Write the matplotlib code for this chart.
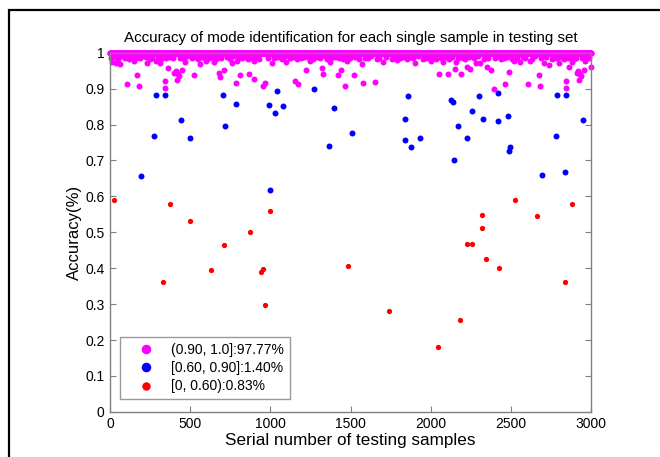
import numpy as np
import matplotlib.pyplot as plt
from matplotlib.patches import Rectangle

plt.rcParams['font.family'] = ['Liberation Sans', 'DejaVu Sans']

n_samples = 3000

# samples with accuracy in [0, 0.60)
red_idx = [25, 377, 496, 875, 998, 708, 627, 331, 940, 956, 967, 1485,
           2527, 2321, 2323, 2664, 2881, 2227, 2260, 2344, 2427, 2835,
           1740, 2185, 2048]
red_acc = [0.590, 0.578, 0.531, 0.502, 0.560, 0.465, 0.394, 0.361, 0.389,
           0.399, 0.298, 0.405, 0.590, 0.549, 0.513, 0.546, 0.579, 0.467,
           0.467, 0.426, 0.402, 0.361, 0.281, 0.256, 0.182]

# samples with accuracy in [0.60, 0.90]
blue_idx = [286, 342, 275, 192, 444, 500, 702, 717, 783, 994, 1040, 1031,
            1081, 1000, 1273, 1394, 1365, 1508, 1858, 1840, 1841, 1877,
            1935, 2125, 2142, 2143, 2171, 2225, 2256, 2302, 2325, 2421,
            2422, 2485, 2496, 2490, 2692, 2779, 2788, 2846, 2838, 2948]
blue_acc = [0.881, 0.881, 0.767, 0.658, 0.813, 0.762, 0.882, 0.797, 0.856,
            0.854, 0.893, 0.832, 0.851, 0.618, 0.898, 0.847, 0.741, 0.776,
            0.880, 0.815, 0.757, 0.738, 0.762, 0.868, 0.862, 0.701, 0.797,
            0.763, 0.837, 0.879, 0.815, 0.887, 0.811, 0.825, 0.738, 0.727,
            0.659, 0.767, 0.881, 0.881, 0.668, 0.813]

# samples with accuracy in (0.90, 1.0] that fall visibly below 1
pink_idx = [104, 171, 179, 340, 341, 360, 415, 400, 423, 413, 429, 452,
            523, 677, 683, 712, 783, 808, 867, 896, 954, 969, 1154, 1175,
            1223, 1323, 1331, 1423, 1442, 1463, 1521, 1575, 1650, 1573,
            2050, 2108, 2152, 2190, 2226, 2246, 2350, 2379, 2392, 2463,
            2491, 2606, 2675, 2683, 2844, 2845, 2910, 2918, 2925, 2930,
            2935, 2958, 2999, 2865, 2740, 2704,
            10, 40, 60, 150, 230, 290, 310, 470, 560, 600, 650, 760, 790,
            900, 1010, 1100, 1250, 1370, 1480, 1700, 1790, 1900, 2000,
            2080, 2160, 2280, 2310, 2520, 2560, 2620, 2800, 2880, 2960]
pink_acc = [0.914, 0.939, 0.907, 0.921, 0.903, 0.957, 0.924, 0.943, 0.941,
            0.948, 0.935, 0.952, 0.938, 0.943, 0.933, 0.952, 0.915, 0.937,
            0.940, 0.928, 0.906, 0.915, 0.922, 0.913, 0.952, 0.957, 0.940,
            0.939, 0.952, 0.907, 0.938, 0.917, 0.919, 0.968, 0.940, 0.940,
            0.954, 0.940, 0.960, 0.954, 0.961, 0.952, 0.899, 0.914, 0.947,
            0.914, 0.938, 0.907, 0.921, 0.903, 0.943, 0.948, 0.924, 0.941,
            0.935, 0.952, 0.960, 0.960, 0.966, 0.970,
            0.975, 0.972, 0.968, 0.976, 0.970, 0.978, 0.972, 0.975, 0.968,
            0.977, 0.974, 0.971, 0.978, 0.976, 0.972, 0.975, 0.977, 0.973,
            0.976, 0.974, 0.979, 0.971, 0.978, 0.975, 0.973, 0.972, 0.970,
            0.976, 0.974, 0.978, 0.972, 0.975, 0.977]

# the dense band just under 1
band_idx = [5, 33, 52, 77, 95, 120, 138, 160, 185, 205, 222, 248, 265, 300,
            318, 352, 370, 390, 435, 460, 480, 510, 535, 548, 575, 590, 620,
            640, 662, 690, 730, 748, 770, 800, 825, 845, 860, 885, 910, 930,
            985, 1020, 1050, 1070, 1090, 1120, 1140, 1165, 1190, 1210, 1240,
            1265, 1290, 1310, 1340, 1355, 1380, 1405, 1430, 1455, 1470, 1495,
            1530, 1550, 1590, 1610, 1630, 1665, 1680, 1720, 1760, 1775, 1810,
            1830, 1850, 1870, 1890, 1920, 1950, 1970, 1990, 2020, 2035, 2065,
            2095, 2115, 2135, 2170, 2200, 2215, 2240, 2270, 2295, 2335, 2360,
            2400, 2410, 2440, 2455, 2475, 2505, 2540, 2575, 2590, 2630, 2650,
            2690, 2720, 2755, 2770, 2790, 2815, 2830, 2855, 2870, 2895, 2905,
            2945, 2970, 2985]
band_acc = [0.985, 0.988, 0.983, 0.990, 0.986, 0.982, 0.989, 0.985, 0.984,
            0.990, 0.987, 0.983, 0.986, 0.989, 0.982, 0.985, 0.988, 0.984,
            0.986, 0.983, 0.990, 0.985, 0.987, 0.982, 0.988, 0.984, 0.986,
            0.989, 0.983, 0.985, 0.987, 0.982, 0.990, 0.984, 0.986, 0.988,
            0.983, 0.985, 0.989, 0.982, 0.986, 0.984, 0.988, 0.983, 0.990,
            0.985, 0.987, 0.982, 0.986, 0.989, 0.984, 0.983, 0.987, 0.985,
            0.990, 0.982, 0.986, 0.988, 0.984, 0.983, 0.989, 0.985, 0.987,
            0.982, 0.986, 0.984, 0.990, 0.983, 0.985, 0.988, 0.982, 0.986,
            0.984, 0.989, 0.983, 0.987, 0.985, 0.990, 0.982, 0.986, 0.984,
            0.988, 0.983, 0.985, 0.987, 0.982, 0.989, 0.986, 0.984, 0.983,
            0.988, 0.985, 0.990, 0.982, 0.986, 0.984, 0.987, 0.983, 0.985,
            0.989, 0.982, 0.986, 0.988, 0.984, 0.983, 0.990, 0.985, 0.987,
            0.982, 0.986, 0.984, 0.988, 0.983, 0.985, 0.989, 0.982, 0.986,
            0.984, 0.987, 0.985]

legend_labels = ['(0.90, 1.0]:97.77%', '[0.60, 0.90]:1.40%', '[0, 0.60):0.83%']

# every remaining sample was identified with accuracy 1
taken = set(red_idx) | set(blue_idx) | set(pink_idx) | set(band_idx)
rest_idx = [i for i in range(1, n_samples + 1) if i not in taken]
rest_acc = [1.0] * len(rest_idx)

fig = plt.figure(figsize=(6.6, 4.57), dpi=100)
fig.patches.append(Rectangle((9 / 660, -0.1), 1.2, 1 - 10 / 457 + 0.1,
                             transform=fig.transFigure, fill=False,
                             edgecolor='black', linewidth=1.6))
ax = fig.add_axes([110 / 660, 1 - 411.9 / 457, 481 / 660, 359.2 / 457])

ms = 4.3
ax.plot(rest_idx + band_idx + pink_idx, rest_acc + band_acc + pink_acc, 'o',
        color='#ff00ff', markersize=ms, markeredgewidth=0, clip_on=False,
        label=legend_labels[0])
ax.plot(blue_idx, blue_acc, 'o', color='#0000ff', markersize=ms,
        markeredgewidth=0, clip_on=False, label=legend_labels[1])
ax.plot(red_idx, red_acc, 'o', color='#ff0000', markersize=3.8,
        markeredgewidth=0, clip_on=False, label=legend_labels[2])

ax.set_xlim(0, 3000)
ax.set_ylim(0, 1)
ax.set_xticks(np.arange(0, 3001, 500))
ax.set_yticks(np.arange(0, 1.01, 0.1))
ax.set_yticklabels(['0', '0.1', '0.2', '0.3', '0.4', '0.5', '0.6', '0.7',
                    '0.8', '0.9', '1'])
ax.tick_params(direction='in', length=4, color='#808080', labelsize=10,
               top=True, right=True, pad=4)
for s in ax.spines.values():
    s.set_color('#808080')
    s.set_linewidth(1.0)

ax.set_title('Accuracy of mode identification for each single sample in testing set',
             fontsize=10.9, pad=8)
ax.set_xlabel('Serial number of testing samples', fontsize=12.3, labelpad=1)
ax.set_ylabel('Accuracy(%)', fontsize=12, labelpad=2)

leg = ax.legend(loc='lower left', bbox_to_anchor=(10 / 481, 12.9 / 359.2),
                borderaxespad=0, fontsize=10, frameon=True, fancybox=False,
                markerscale=1.6, handletextpad=0.3, borderpad=0.4,
                labelspacing=0.32, handlelength=3.0)
leg.get_frame().set_edgecolor('#808080')
leg.get_frame().set_linewidth(1.0)

fig.savefig('out.png', dpi=100)
